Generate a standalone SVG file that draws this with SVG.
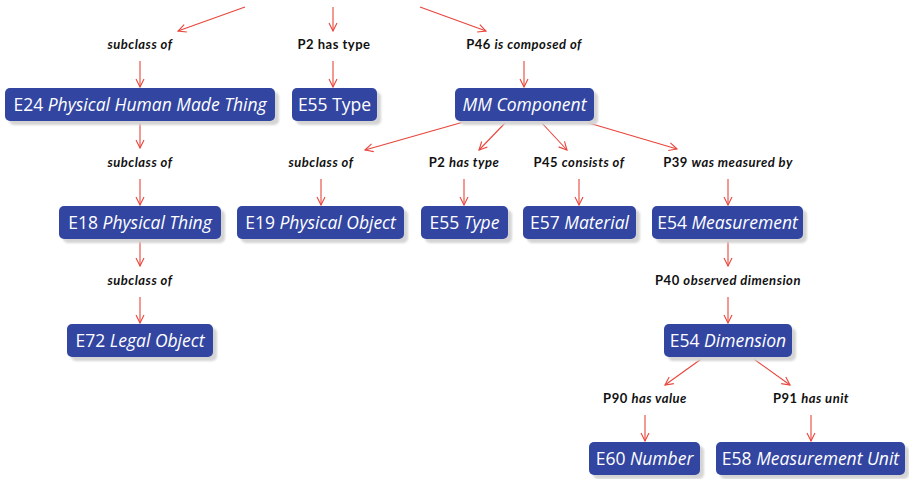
<svg xmlns="http://www.w3.org/2000/svg" width="909" height="479" viewBox="0 0 909 479">
<defs>
<marker id="arr" viewBox="0 0 10 10" refX="9" refY="5" markerWidth="10" markerHeight="10" markerUnits="userSpaceOnUse" orient="auto">
<path d="M1,1 L9,5 L1,9" fill="none" stroke="#e8453c" stroke-width="1.1"/>
</marker>
<filter id="blur" x="-10%" y="-30%" width="120%" height="160%"><feGaussianBlur stdDeviation="0.8"/></filter>
</defs>
<style>
.sh{fill:#d4d4d4;filter:url(#blur)}
.box{fill:#3245a1}
.nt{fill:#ffffff;font-family:"Open Sans","DejaVu Sans",sans-serif;font-size:17.5px;text-anchor:middle}
.lb{fill:#111111;font-family:Lato,"Liberation Sans",sans-serif;font-size:13px;letter-spacing:0.5px;font-weight:bold;text-anchor:middle}
.it{font-style:italic}
.e{stroke:#e8453c;stroke-width:1.1;fill:none;marker-end:url(#arr)}
</style>
<g id="connectors">
<line class="e" x1="245" y1="7" x2="178" y2="31"/>
<line class="e" x1="333" y1="7" x2="333" y2="31"/>
<line class="e" x1="420" y1="7" x2="486" y2="31"/>
<line class="e" x1="140" y1="61" x2="140" y2="87"/>
<line class="e" x1="333" y1="61" x2="333" y2="87"/>
<line class="e" x1="524" y1="61" x2="524" y2="87"/>
<line class="e" x1="140" y1="121" x2="140" y2="148"/>
<line class="e" x1="140" y1="179" x2="140" y2="205"/>
<line class="e" x1="140" y1="239" x2="140" y2="266"/>
<line class="e" x1="140" y1="297" x2="140" y2="323"/>
<line class="e" x1="467" y1="121" x2="365" y2="150"/>
<line class="e" x1="507" y1="121" x2="479" y2="150"/>
<line class="e" x1="540" y1="121" x2="567" y2="150"/>
<line class="e" x1="582" y1="121" x2="677" y2="149"/>
<line class="e" x1="321" y1="179" x2="321" y2="205"/>
<line class="e" x1="464" y1="179" x2="464" y2="205"/>
<line class="e" x1="579" y1="179" x2="579" y2="205"/>
<line class="e" x1="728" y1="179" x2="728" y2="205"/>
<line class="e" x1="728" y1="239" x2="728" y2="266"/>
<line class="e" x1="728" y1="297" x2="728" y2="323"/>
<line class="e" x1="704" y1="357" x2="665" y2="385"/>
<line class="e" x1="751" y1="357" x2="790" y2="385"/>
<line class="e" x1="645" y1="415" x2="645" y2="441"/>
<line class="e" x1="811" y1="415" x2="811" y2="441"/>
</g>
<g id="labels">
<text class="lb it" x="140" y="49">subclass of</text>
<text class="lb" x="334" y="49">P2 has type</text>
<text class="lb" x="524" y="49">P46 <tspan class="it">is composed of</tspan></text>
<text class="lb it" x="140" y="167">subclass of</text>
<text class="lb it" x="321" y="167">subclass of</text>
<text class="lb" x="464" y="167">P2 <tspan class="it">has type</tspan></text>
<text class="lb" x="579" y="167">P45 <tspan class="it">consists of</tspan></text>
<text class="lb" x="728" y="167">P39 <tspan class="it">was measured by</tspan></text>
<text class="lb it" x="140" y="285">subclass of</text>
<text class="lb" x="728" y="285">P40 <tspan class="it">observed dimension</tspan></text>
<text class="lb" x="645" y="403">P90 <tspan class="it">has value</tspan></text>
<text class="lb" x="811" y="403">P91 <tspan class="it">has unit</tspan></text>
</g>
<g id="n-e24"><rect class="sh" x="9" y="92" width="270" height="33" rx="5"/><rect class="box" x="5" y="88" width="270" height="33" rx="5"/><text class="nt" x="140" y="110.5">E24 <tspan class="it">Physical Human Made Thing</tspan></text></g>
<g id="n-e55a"><rect class="sh" x="296" y="92" width="85" height="33" rx="5"/><rect class="box" x="292" y="88" width="85" height="33" rx="5"/><text class="nt" x="334.5" y="110.5">E55 Type</text></g>
<g id="n-mm"><rect class="sh" x="459" y="92" width="139" height="33" rx="5"/><rect class="box" x="455" y="88" width="139" height="33" rx="5"/><text class="nt it" x="524.5" y="110.5">MM Component</text></g>
<g id="n-e18"><rect class="sh" x="63" y="210" width="162" height="33" rx="5"/><rect class="box" x="59" y="206" width="162" height="33" rx="5"/><text class="nt" x="140" y="228.5">E18 <tspan class="it">Physical Thing</tspan></text></g>
<g id="n-e19"><rect class="sh" x="241" y="210" width="167" height="33" rx="5"/><rect class="box" x="237" y="206" width="167" height="33" rx="5"/><text class="nt" x="320.5" y="228.5">E19 <tspan class="it">Physical Object</tspan></text></g>
<g id="n-e55b"><rect class="sh" x="425" y="210" width="87" height="33" rx="5"/><rect class="box" x="421" y="206" width="87" height="33" rx="5"/><text class="nt" x="464.5" y="228.5">E55 <tspan class="it">Type</tspan></text></g>
<g id="n-e57"><rect class="sh" x="527" y="210" width="113" height="33" rx="5"/><rect class="box" x="523" y="206" width="113" height="33" rx="5"/><text class="nt" x="579.5" y="228.5">E57 <tspan class="it">Material</tspan></text></g>
<g id="n-e54m"><rect class="sh" x="656" y="210" width="151" height="33" rx="5"/><rect class="box" x="652" y="206" width="151" height="33" rx="5"/><text class="nt" x="727.5" y="228.5">E54 <tspan class="it">Measurement</tspan></text></g>
<g id="n-e72"><rect class="sh" x="71" y="328" width="146" height="33" rx="5"/><rect class="box" x="67" y="324" width="146" height="33" rx="5"/><text class="nt" x="140" y="346.5">E72 <tspan class="it">Legal Object</tspan></text></g>
<g id="n-e54d"><rect class="sh" x="668" y="328" width="128" height="33" rx="5"/><rect class="box" x="664" y="324" width="128" height="33" rx="5"/><text class="nt" x="728" y="346.5">E54 <tspan class="it">Dimension</tspan></text></g>
<g id="n-e60"><rect class="sh" x="593" y="446" width="111" height="33" rx="5"/><rect class="box" x="589" y="442" width="111" height="33" rx="5"/><text class="nt" x="644.5" y="464.5">E60 <tspan class="it">Number</tspan></text></g>
<g id="n-e58"><rect class="sh" x="720" y="446" width="189" height="33" rx="5"/><rect class="box" x="716" y="442" width="189" height="33" rx="5"/><text class="nt" x="810.5" y="464.5">E58 <tspan class="it">Measurement Unit</tspan></text></g>
</svg>
